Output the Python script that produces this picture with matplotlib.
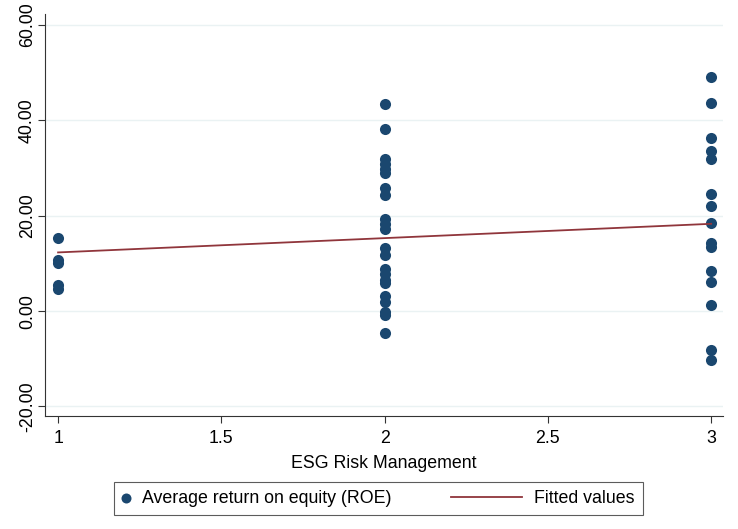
import matplotlib.pyplot as plt
from matplotlib.ticker import FormatStrFormatter
from matplotlib.legend_handler import HandlerPathCollection, HandlerLine2D
from matplotlib.lines import Line2D

plt.rcParams['font.family'] = ['Liberation Sans', 'DejaVu Sans']

# ROE by ESG risk management score
esg_1 = [15.4, 10.7, 10.0, 5.5, 4.6]
esg_2 = [43.4, 38.1, 31.8, 30.8, 29.8, 29.0, 25.9, 24.4, 19.3, 18.2, 17.2,
         13.3, 11.8, 8.8, 7.7, 6.6, 5.8, 3.2, 1.8, -0.2, -0.9, -4.6]
esg_3 = [49.1, 43.7, 36.2, 33.6, 31.9, 24.5, 22.0, 18.4, 14.3, 13.4, 8.4,
         6.2, 1.3, -8.2, -10.2]
fit_x = [1, 3]
fit_y = [12.3, 18.3]

xticks = [1, 1.5, 2, 2.5, 3]
yticks = [-20, 0, 20, 40, 60]

navy = '#1a476f'
maroon = '#90353b'
fs = 12.8


class LongLine(HandlerLine2D):
    # stata draws the legend line much longer than the marker key
    def create_artists(self, legend, orig_handle, xdescent, ydescent,
                       width, height, fontsize, trans):
        y = height / 2 - ydescent
        ln = Line2D([-xdescent - 3.55 * fontsize, -xdescent + width], [y, y])
        self.update_prop(ln, orig_handle, legend)
        ln.set_transform(trans)
        return [ln]


fig = plt.figure(figsize=(7.38, 5.29), dpi=100)
ax = fig.add_axes([0.061, 0.2136, 0.919, 0.76])

xs = [1] * len(esg_1) + [2] * len(esg_2) + [3] * len(esg_3)
ys = esg_1 + esg_2 + esg_3
sc = ax.scatter(xs, ys, s=64, color=navy, zorder=3, linewidths=0,
                label='Average return on equity (ROE)')
fl, = ax.plot(fit_x, fit_y, color=maroon, lw=1.3, zorder=4,
              label='Fitted values')

ax.set_xlim(0.96, 3.037)
ax.set_ylim(-22.0, 62.3)
ax.set_xticks(xticks)
ax.set_xticklabels(['1', '1.5', '2', '2.5', '3'])
ax.set_yticks(yticks)
ax.yaxis.set_major_formatter(FormatStrFormatter('%.2f'))
for lab in ax.get_yticklabels():
    lab.set_rotation(90)
    lab.set_va('center')
ax.tick_params(labelsize=fs, length=5, width=0.8, color='#333333')
ax.tick_params(axis='x', pad=5)
ax.tick_params(axis='y', pad=1.5)
ax.grid(axis='y', color='#eaf2f3', lw=1)
ax.set_axisbelow(True)
for s in ['top', 'right']:
    ax.spines[s].set_visible(False)
for s in ['left', 'bottom']:
    ax.spines[s].set_color('#333333')
    ax.spines[s].set_linewidth(0.8)
ax.set_xlabel('ESG Risk Management', fontsize=fs, labelpad=6)

leg = fig.legend([sc, fl], [sc.get_label(), fl.get_label()],
                 loc='lower left', bbox_to_anchor=(114 / 738, 1 - 515 / 529),
                 borderaxespad=0, ncol=2, fontsize=fs, frameon=True,
                 fancybox=False, columnspacing=6.9, handlelength=0.46,
                 handletextpad=0.67, borderpad=0.45, markerscale=0.9,
                 handler_map={sc: HandlerPathCollection(),
                              Line2D: LongLine()})
leg.get_frame().set_edgecolor('#333333')
leg.get_frame().set_linewidth(0.8)

fig.savefig('out.png', dpi=100)
